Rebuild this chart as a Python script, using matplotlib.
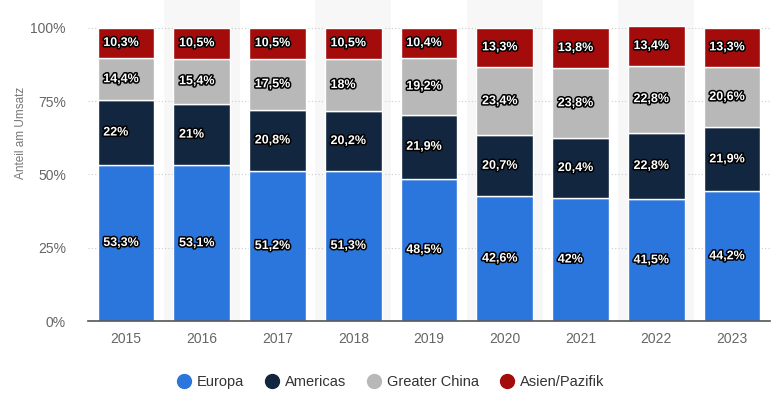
import matplotlib.pyplot as plt
import matplotlib.patheffects as pe
from matplotlib.lines import Line2D
import numpy as np

years = ['2015', '2016', '2017', '2018', '2019', '2020', '2021', '2022', '2023']
europa = [53.3, 53.1, 51.2, 51.3, 48.5, 42.6, 42.0, 41.5, 44.2]
americas = [22.0, 21.0, 20.8, 20.2, 21.9, 20.7, 20.4, 22.8, 21.9]
china = [14.4, 15.4, 17.5, 18.0, 19.2, 23.4, 23.8, 22.8, 20.6]
asien = [10.3, 10.5, 10.5, 10.5, 10.4, 13.3, 13.8, 13.4, 13.3]

series = [('Europa', europa, '#2a76dd'),
          ('Americas', americas, '#12263f'),
          ('Greater China', china, '#b8b8b8'),
          ('Asien/Pazifik', asien, '#a40c0c')]

plt.rcParams['font.family'] = ['Liberation Sans', 'DejaVu Sans']
fig = plt.figure(figsize=(7.73, 3.93), dpi=100)
ax = fig.add_axes([0.114, 0.183, 0.882, 0.817])

x = np.arange(len(years))
for i in x:
    if i % 2 == 1:
        ax.axvspan(i - 0.5, i + 0.5, color='#f7f7f7', zorder=0, lw=0)

def fmt(v):
    s = ('%.1f' % v).rstrip('0').rstrip('.')
    return s.replace('.', ',') + '%'

bottom = np.zeros(len(years))
for name, vals, col in series:
    vals = np.array(vals)
    ax.bar(x, vals, 0.75, bottom=bottom, color=col, edgecolor='white',
           linewidth=1, zorder=3)
    for xi, b, v in zip(x, bottom, vals):
        t = ax.text(xi - 0.30, b + v / 2, fmt(v), color='white', fontsize=9,
                    fontweight='bold', ha='left', va='center', zorder=4)
        t.set_path_effects([pe.withStroke(linewidth=2.2, foreground='black')])
    bottom += vals

ax.set_xlim(-0.5, len(years) - 0.5)
ax.set_ylim(0, 109.5)
ax.set_yticks([0, 25, 50, 75, 100])
ax.set_yticklabels(['0%', '25%', '50%', '75%', '100%'])
ax.set_xticks(x)
ax.set_xticklabels(years)
ax.tick_params(axis='both', length=0, labelsize=10, colors='#666666')
ax.tick_params(axis='y', pad=16)
ax.tick_params(axis='x', pad=8)
ax.yaxis.grid(True, linestyle=(0, (1, 2)), color='#cccccc', linewidth=0.8, zorder=1)
ax.set_axisbelow(True)
for s in ['top', 'right', 'left']:
    ax.spines[s].set_visible(False)
ax.spines['bottom'].set_color('#555555')
ax.spines['bottom'].set_linewidth(1.2)
ax.spines['bottom'].set_zorder(5)
ax.set_ylabel('Anteil am Umsatz', fontsize=8.5, color='#777777')
ax.yaxis.set_label_coords(-0.089, 0.585)

handles = [Line2D([0], [0], marker='o', linestyle='', markersize=10,
                  markerfacecolor=c, markeredgecolor=c) for _, _, c in series]
fig.legend(handles, [n for n, _, _ in series], loc='center', ncol=4,
           bbox_to_anchor=(0.505, 0.028), frameon=False, fontsize=10.5,
           handlelength=1.0, handletextpad=0.4, columnspacing=1.4,
           labelcolor='#333333')

fig.savefig('out.png', dpi=100)
